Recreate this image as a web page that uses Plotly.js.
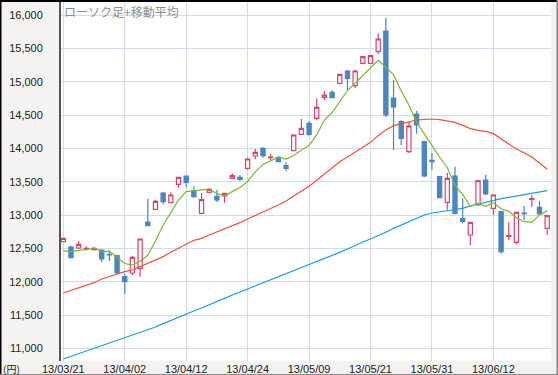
<!DOCTYPE html>
<html>
<head>
<meta charset="utf-8">
<script src="https://cdn.plot.ly/plotly-3.0.1.min.js"></script>
<style>html,body{margin:0;padding:0;background:#f4f3f1;}#chart{width:558px;height:375px;}</style>
</head>
<body>
<div id="chart"></div>
<script>
// Trading days (category axis)
const dates = ["13/03/21","13/03/22","13/03/25","13/03/26","13/03/27","13/03/28","13/03/29",
"13/04/01","13/04/02","13/04/03","13/04/04","13/04/05","13/04/08","13/04/09","13/04/10","13/04/11","13/04/12",
"13/04/15","13/04/16","13/04/17","13/04/18","13/04/19","13/04/22","13/04/23","13/04/24","13/04/25","13/04/26","13/04/30",
"13/05/01","13/05/02","13/05/07","13/05/08","13/05/09","13/05/10","13/05/13","13/05/14","13/05/15","13/05/16","13/05/17",
"13/05/20","13/05/21","13/05/22","13/05/23","13/05/24","13/05/27","13/05/28","13/05/29","13/05/30","13/05/31",
"13/06/03","13/06/04","13/06/05","13/06/06","13/06/07","13/06/10","13/06/11","13/06/12","13/06/13","13/06/14",
"13/06/17","13/06/18","13/06/19","13/06/20","13/06/21"];

const openV  = [12600,12520,12505,12490,12480,12475,12410,12390,12075,12130,12200,12895,13085,13330,13185,13460,13585,
13365,13025,13340,13280,13285,13550,13565,13700,13885,14000,13860,13865,13740,13965,14210,14375,14450,14765,14840,14975,
15160,14940,15275,15275,15450,15760,14755,14400,13950,14515,14100,13820,13575,13190,13585,12945,12700,13150,13525,13100,
13050,12680,12590,13030,13235,13115,12800];
const highV  = [12660,12540,12610,12530,12510,12480,12445,12400,12115,12390,12640,13240,13230,13350,13340,13565,13590,
13430,13330,13400,13380,13335,13625,13600,13860,13990,14020,13910,13880,13790,14210,14440,14410,14750,14860,14870,15120,
15175,15180,15390,15400,15725,15960,15025,14420,14400,14560,14110,13930,13585,13630,13725,13250,12895,13520,13600,13310,
13060,12890,13045,13135,13300,13215,13000];
const lowV   = [12590,12350,12490,12470,12470,12295,12310,12130,11815,12100,12075,12830,13080,13160,13180,13410,13420,
13260,13010,13330,13195,13185,13545,13510,13680,13835,13860,13825,13790,13655,13960,14200,14190,14420,14725,14750,14960,
14875,14900,15260,15260,15410,14470,13975,14050,13930,14220,13565,13680,13250,13080,13010,12875,12550,13140,13300,13000,
12420,12625,12560,12925,13120,13010,12700];
const closeV = [12650,12360,12560,12500,12490,12340,12400,12130,12000,12365,12640,12840,13205,13200,13300,13565,13490,
13275,13230,13385,13225,13325,13590,13535,13840,13940,13890,13870,13800,13700,14200,14300,14210,14615,14800,14760,15110,
15050,15160,15375,15390,15640,14500,14620,14150,14335,14350,13585,13800,13260,13550,13025,12905,12890,13515,13315,13300,
12450,12690,13040,13020,13245,13015,12990];

// Moving averages
const ma5  = [12465,12450,12470,12480,12510,12450,12458,12372,12272,12247,12307,12395,12610,12850,13037,13222,13352,
13366,13372,13389,13321,13288,13351,13412,13503,13646,13759,13815,13868,13840,13892,13974,14042,14205,14425,14537,14699,
14867,14976,15091,15217,15323,15213,15105,14860,14649,14391,14208,14044,13866,13709,13444,13308,13126,13177,13130,13185,
13094,13054,12959,12900,12889,13002,13062];
const ma25 = [11830,11870,11905,11950,11985,12040,12075,12120,12150,12175,12225,12270,12320,12375,12440,12505,12560,
12620,12650,12700,12745,12800,12840,12885,12940,12990,13040,13095,13150,13210,13280,13350,13430,13520,13610,13700,13800,
13870,13940,14020,14090,14190,14275,14340,14370,14395,14425,14435,14440,14430,14415,14390,14345,14295,14270,14255,14220,
14140,14070,13990,13935,13870,13780,13685];
const ma75 = [10840,10880,10920,10960,11000,11040,11080,11120,11160,11195,11235,11275,11320,11370,11420,11465,11510,
11560,11605,11650,11700,11750,11800,11845,11890,11935,11985,12030,12075,12120,12165,12210,12255,12300,12345,12390,12440,
12490,12545,12595,12640,12685,12740,12800,12850,12900,12950,13000,13030,13045,13060,13075,13100,13135,13165,13195,13225,
13245,13265,13285,13300,13320,13345,13365];

const tickDates = ["13/03/21","13/04/02","13/04/12","13/04/24","13/05/09","13/05/21","13/05/31","13/06/12"];
const yTicks = [11000,11500,12000,12500,13000,13500,14000,14500,15000,15500,16000];

const titleText = "ローソク足+移動平均";
const unitText = "(円)";

const traces = [
  {type:'scatter', mode:'lines', x:dates, y:ma75, line:{color:'#1a9ede', width:1.2}, hoverinfo:'skip'},
  {type:'scatter', mode:'lines', x:dates, y:ma25, line:{color:'#f0503c', width:1.2}, hoverinfo:'skip'},
  {type:'scatter', mode:'lines', x:dates, y:ma5, line:{color:'#7ab832', width:1.2}, hoverinfo:'skip'},
  {type:'candlestick', x:dates, open:openV, high:highV, low:lowV, close:closeV,
   increasing:{line:{color:'#d8456a', width:1.2}, fillcolor:'#ffffff'},
   decreasing:{line:{color:'#4a86c0', width:1.2}, fillcolor:'#4a86c0'},
   whiskerwidth:0, hoverinfo:'skip'}
];

const grid = '#d2dbec';
const layout = {
  width:558, height:375,
  margin:{l:61, r:7, t:2, b:14},
  paper_bgcolor:'#f4f3f1', plot_bgcolor:'#ffffff',
  showlegend:false,
  boxgap:0.22,
  font:{family:'Liberation Sans, Arial, sans-serif', size:11, color:'#222'},
  xaxis:{type:'category', range:[-0.3, 63.5], rangeslider:{visible:false},
    tickmode:'array', tickvals:tickDates, ticktext:tickDates,
    showgrid:true, gridcolor:grid, gridwidth:1, zeroline:false, showline:false, ticks:'',
    tickfont:{size:11, color:'#222'}, ticklabelstandoff:0},
  yaxis:{range:[10810, 16195], tickmode:'array', tickvals:yTicks,
    ticktext:yTicks.map(v=>v.toLocaleString('en-US')),
    showgrid:true, gridcolor:grid, gridwidth:1, zeroline:false,
    showline:true, linecolor:'#555', linewidth:2, ticks:'', ticklabelstandoff:14,
    tickfont:{size:11, color:'#222'}},
  annotations:[
    {xref:'paper', yref:'paper', x:0, y:1, xanchor:'left', yanchor:'top', xshift:1, yshift:1,
     text:titleText, showarrow:false, font:{family:'Noto Sans CJK JP', size:12, color:'#8c8c8c'}},
    {xref:'paper', yref:'paper', x:-0.1225, y:-0.0195, xanchor:'left', yanchor:'middle',
     text:unitText, showarrow:false, font:{family:'Noto Sans CJK JP, Liberation Sans', size:10, color:'#222'}}
  ],
  shapes:[
    {type:'line', xref:'paper', yref:'paper', x0:-0.13, x1:1.02, y0:1.0042, y1:1.0042, line:{color:'#000', width:3}},
    {type:'line', xref:'paper', yref:'paper', x0:-0.1235, x1:-0.1235, y0:-0.05, y1:1.01, line:{color:'#000', width:2}},
    {type:'line', xref:'paper', yref:'paper', x0:1.0132, x1:1.0132, y0:-0.05, y1:1.01, line:{color:'#888', width:2}},
    {type:'line', xref:'paper', yref:'paper', x0:-0.13, x1:1.02, y0:-0.0376, y1:-0.0376, line:{color:'#888', width:1}}
  ]
};

Plotly.newPlot('chart', traces, layout, {staticPlot:true, displayModeBar:false});
</script>
</body>
</html>
